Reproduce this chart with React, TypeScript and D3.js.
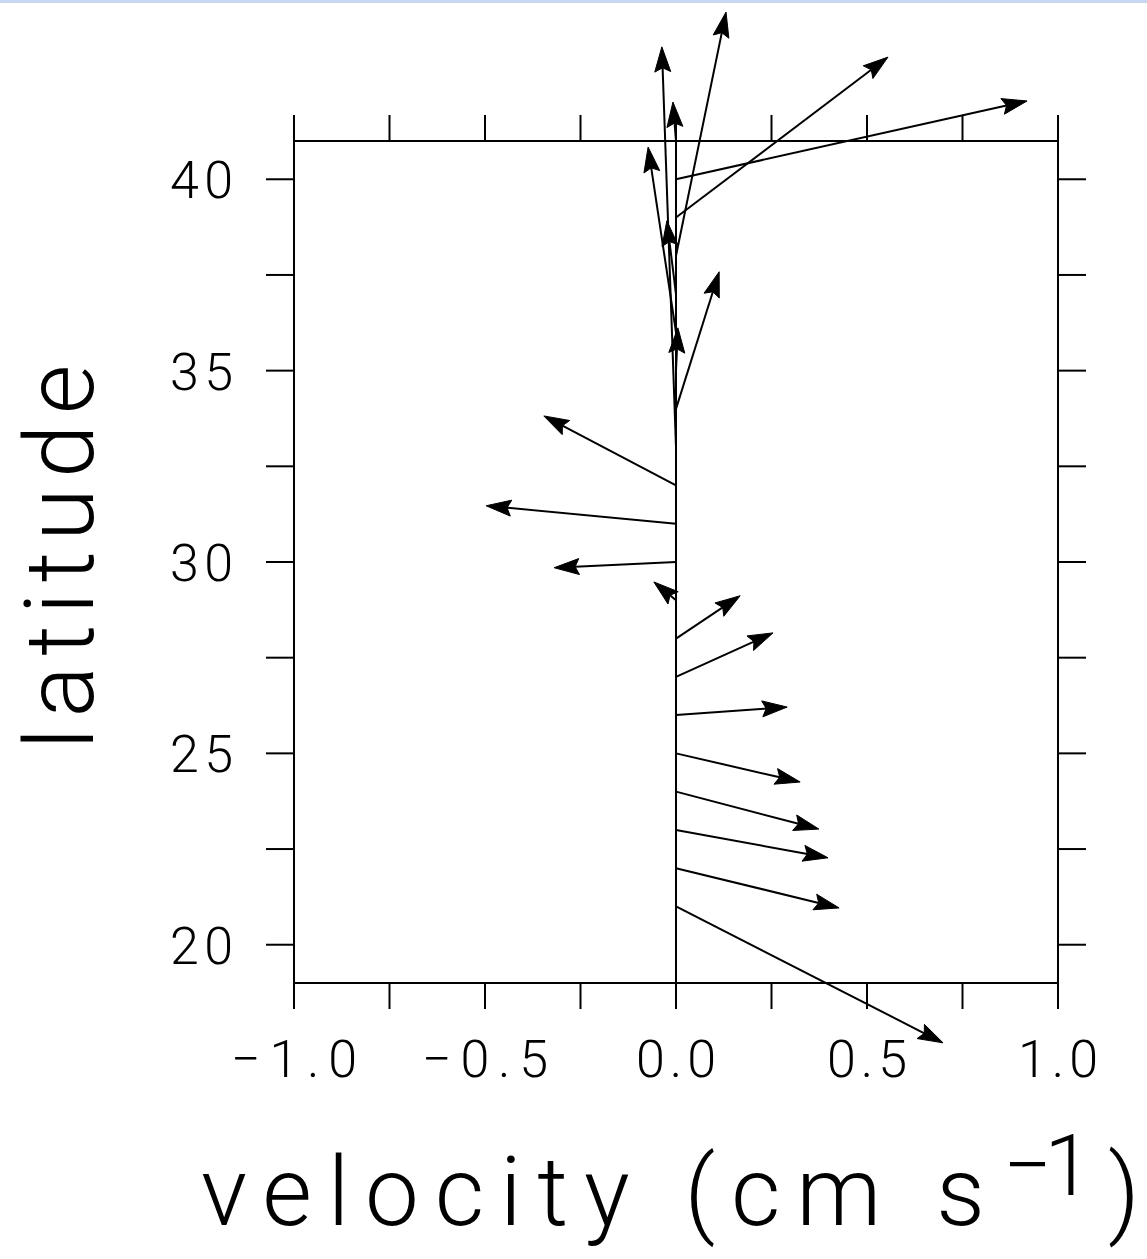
import React from "react";
import * as d3 from "d3";

// Latitudes of the vector origins (degrees N)
const latitudes = [21, 22, 23, 24, 25, 26, 27, 28, 29, 30, 31, 32, 33, 34, 35, 36, 37, 38, 39, 40, 41];
// Eastward component u (cm/s)
const uValues = [0.699, 0.427, 0.398, 0.374, 0.325, 0.291, 0.254, 0.168, -0.058, -0.319, -0.497, -0.346, -0.037, 0.113, 0.005, -0.073, -0.024, 0.131, 0.555, 0.919, -0.008];
// Northward component v (cm/s)
const vValues = [-0.357, -0.104, -0.073, -0.098, -0.075, 0.021, 0.115, 0.112, 0.048, -0.015, 0.047, 0.182, 1.048, 0.359, 0.112, 0.485, 0.192, 0.638, 0.42, 0.205, 0.102];

const xTicks = [-1, -0.75, -0.5, -0.25, 0, 0.25, 0.5, 0.75, 1];
const xTickLabels = [
  { value: -1, text: "\u22121.0" },
  { value: -0.5, text: "\u22120.5" },
  { value: 0, text: "0.0" },
  { value: 0.5, text: "0.5" },
  { value: 1, text: "1.0" },
];
const yTicks = [20, 22.5, 25, 27.5, 30, 32.5, 35, 37.5, 40];
const yTickLabels = [20, 25, 30, 35, 40];

const W = 1147;
const H = 1259;
const FONT = "Roboto, 'Liberation Sans', sans-serif";

export default function App() {
  const x = d3.scaleLinear().domain([-1, 1]).range([294, 1058]);
  const y = d3.scaleLinear().domain([19, 41]).range([983, 141]);
  const s = x(1) - x(0); // pixels per cm/s, same for both components

  const top = y(41);
  const bottom = y(19);
  const tickLen = 26;
  const yTickLen = 28;

  const arrows = latitudes.map((lat, i) => {
    const x0 = x(0);
    const y0 = y(lat);
    const tx = x0 + uValues[i] * s;
    const ty = y0 - vValues[i] * s;
    const dx = tx - x0;
    const dy = ty - y0;
    const len = Math.hypot(dx, dy) || 1;
    const ux = dx / len;
    const uy = dy / len;
    const nx = -uy;
    const ny = ux;
    const L = 25;
    const Wd = 8;
    const notch = 4;
    const bx = tx - L * ux;
    const by = ty - L * uy;
    const mx = tx - (L - notch) * ux;
    const my = ty - (L - notch) * uy;
    const head = `M${tx},${ty}L${bx + Wd * nx},${by + Wd * ny}L${mx},${my}L${bx - Wd * nx},${by - Wd * ny}Z`;
    return { lat, x0, y0, mx, my, head };
  });

  return (
    <svg
      width={W}
      height={H}
      viewBox={`0 0 ${W} ${H}`}
      style={{ position: "absolute", left: 0, top: 0, display: "block", background: "#fff" }}
    >
      <rect x={0} y={0} width={W} height={3} fill="#c8d8f0" />
      <g stroke="#000" strokeWidth={2} fill="none" strokeLinecap="butt">
        {/* frame horizontals */}
        <line x1={x(-1)} x2={x(1)} y1={top} y2={top} />
        <line x1={x(-1)} x2={x(1)} y1={bottom} y2={bottom} />
        {/* x ticks top and bottom */}
        {xTicks.map((t) => (
          <g key={`xt${t}`}>
            <line x1={x(t)} x2={x(t)} y1={top} y2={top - tickLen} />
            <line x1={x(t)} x2={x(t)} y1={bottom} y2={bottom + tickLen} />
          </g>
        ))}
        {/* frame verticals */}
        <line x1={x(-1)} x2={x(-1)} y1={top} y2={bottom} />
        <line x1={x(1)} x2={x(1)} y1={top} y2={bottom} />
        {/* zero line */}
        <line x1={x(0)} x2={x(0)} y1={top} y2={bottom} />
        {/* y ticks left and right */}
        {yTicks.map((t) => (
          <g key={`yt${t}`}>
            <line x1={x(-1)} x2={x(-1) - yTickLen} y1={y(t)} y2={y(t)} />
            <line x1={x(1)} x2={x(1) + yTickLen} y1={y(t)} y2={y(t)} />
          </g>
        ))}
      </g>

      {/* vectors */}
      <g>
        {arrows.map((a) => (
          <g key={`a${a.lat}`}>
            <line x1={a.x0} y1={a.y0} x2={a.mx} y2={a.my} stroke="#000" strokeWidth={2} />
            <path d={a.head} fill="#000" stroke="#000" strokeWidth={1} strokeLinejoin="miter" />
          </g>
        ))}
      </g>

      {/* tick labels */}
      <g fontFamily={FONT} fontWeight={300} fill="#000" fontSize={52}>
        {xTickLabels.map((l) => (
          <text
            key={`xl${l.value}`}
            x={x(l.value)}
            y={1077}
            textAnchor="middle"
            textLength={l.value < 0 ? 126 : 80}
            lengthAdjust="spacing"
          >
            {l.text}
          </text>
        ))}
        {yTickLabels.map((v) => (
          <text
            key={`yl${v}`}
            x={233}
            y={y(v) + 19}
            textAnchor="end"
            textLength={63}
            lengthAdjust="spacing"
          >
            {v}
          </text>
        ))}
      </g>

      {/* axis titles */}
      <g fontFamily={FONT} fontWeight={300} fill="#000">
        <text
          transform={`translate(93,${557}) rotate(-90)`}
          textAnchor="middle"
          fontSize={96}
          textLength={385}
          lengthAdjust="spacing"
        >
          latitude
        </text>
        <text x={201} y={1225} fontSize={96} textLength={784} lengthAdjust="spacing">
          velocity (cm s
        </text>
        <text x={1003} y={1195} fontSize={86} textLength={89} lengthAdjust="spacing">
          {"\u22121"}
        </text>
        <text x={1108} y={1225} fontSize={98}>
          )
        </text>
      </g>
    </svg>
  );
}
